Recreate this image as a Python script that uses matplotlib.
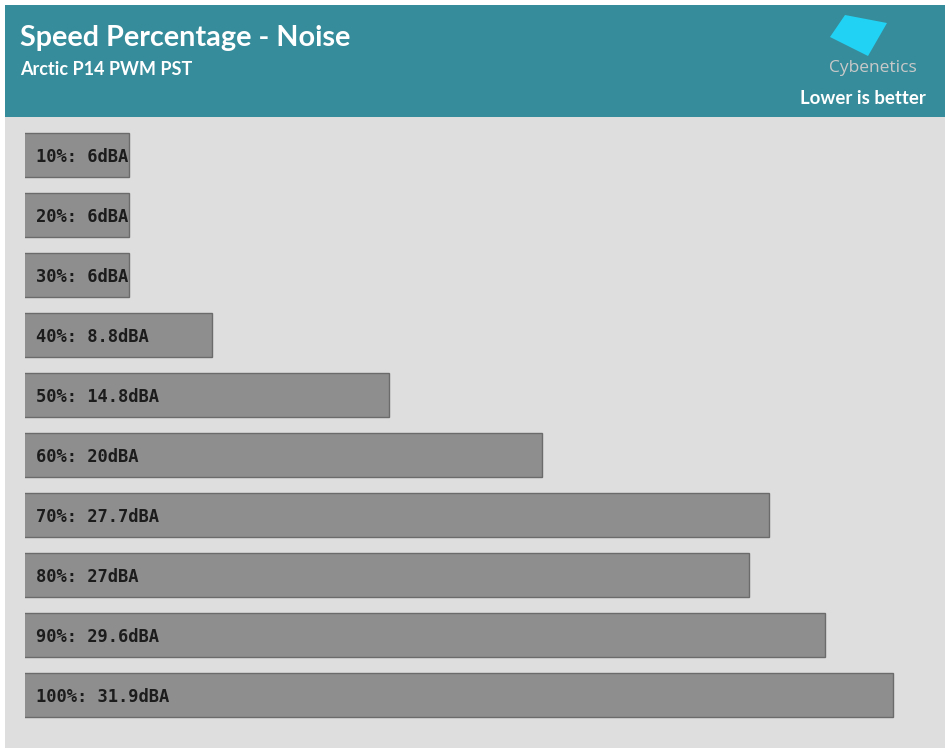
import matplotlib.pyplot as plt
from matplotlib.patches import Rectangle, Polygon

# Data
speeds = ['10%', '20%', '30%', '40%', '50%', '60%', '70%', '80%', '90%', '100%']
noise = [6, 6, 6, 8.8, 14.8, 20, 27.7, 27, 29.6, 31.9]
title = 'Speed Percentage - Noise'
subtitle = 'Arctic P14 PWM PST'

W, H = 951, 753
fig = plt.figure(figsize=(W / 100, H / 100), dpi=100)
fig.patch.set_facecolor('white')


# helper: pixel position -> figure coords
def px(x, y):
    return x / W, 1 - y / H


# panel and header (behind the axes)
fig.patches.append(Rectangle(px(5, 748), 940 / W, 631 / H, transform=fig.transFigure,
                             facecolor='#dedede', edgecolor='none', zorder=-2))
fig.patches.append(Rectangle(px(5, 117), 940 / W, 112 / H, transform=fig.transFigure,
                             facecolor='#368c9a', edgecolor='none', zorder=-2))

fig.text(*px(20, 46), title, color='white', fontsize=20.7, fontweight='bold',
         family='Lato', va='baseline', ha='left')
fig.text(*px(20, 75), subtitle, color='white', fontsize=13, fontweight='bold',
         family='Lato', va='baseline', ha='left')
fig.text(*px(926, 104), 'Lower is better', color='white', fontsize=13.4, fontweight='bold',
         family='Lato', va='baseline', ha='right')

# Cybenetics logo
logo = [px(845, 15), px(887, 23), px(868, 56), px(830, 37)]
fig.patches.append(Polygon(logo, closed=True, transform=fig.transFigure,
                           facecolor='#22d2f4', edgecolor='none', zorder=-1))
fig.text(*px(873, 72), 'Cybenetics', color='#c9c9c9', fontsize=12.5,
         family='Open Sans', va='baseline', ha='center')

# bars
ax = fig.add_axes([25 / W, (H - 725) / H, 900 / W, 600 / H])
ax.set_facecolor('none')
y = list(range(len(speeds)))
ax.barh(y, noise, left=0, height=44 / 60, color='#8e8e8e', edgecolor='#6b6b6b',
        linewidth=1)
for i, (s, v) in enumerate(zip(speeds, noise)):
    ax.text(2.83, i + 0.04, f'{s}: {v:g}dBA', va='center', ha='left', fontsize=12.3,
            fontweight='bold', family='DejaVu Sans Mono', color='#1c1c1c')

ax.set_xlim(2.456, 32.98)
ax.set_ylim(9.5, -0.5)
ax.axis('off')

fig.savefig('out.png', dpi=100)
